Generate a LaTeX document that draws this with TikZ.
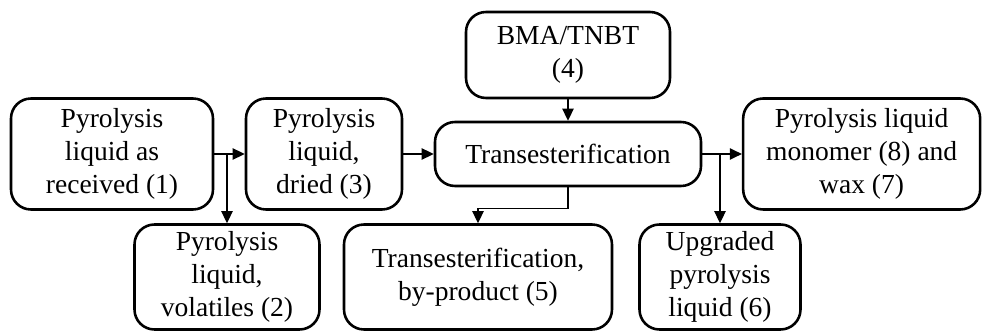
\documentclass[tikz,border=0pt]{standalone}
\usepackage{fontspec}
\setmainfont{Liberation Serif}
\usetikzlibrary{arrows.meta,positioning,calc}

\begin{document}
\begin{tikzpicture}[
  blk/.style={draw,line width=2.2pt,rounded corners=0.6cm,align=center,inner sep=0pt,
    font=\fontsize{23.5}{28}\selectfont},
  arr/.style={-{Triangle[length=0.36cm,width=0.34cm]},line width=1.1pt}]
  \useasboundingbox (0,0) rectangle (29.46,9.93);
  % top row
  \node[blk,minimum width=6.06cm,minimum height=3.33cm] (raw) at (3.36,5.31) {Pyrolysis\\liquid as\\received (1)};
  \node[blk,minimum width=4.68cm,minimum height=3.33cm] (dry) at (9.72,5.31) {Pyrolysis\\liquid,\\dried (3)};
  \node[blk,minimum width=7.98cm,minimum height=1.92cm] (trans) at (17.04,5.31) {Transesterification};
  \node[blk,minimum width=6.12cm,minimum height=2.58cm] (bma) at (17.04,8.28) {BMA/TNBT\\(4)};
  \node[blk,minimum width=7.11cm,minimum height=3.33cm] (mono) at (25.85,5.31) {Pyrolysis liquid\\monomer (8) and\\wax (7)};
  % bottom row
  \node[blk,minimum width=5.55cm,minimum height=3.15cm] (vol) at (6.81,1.62) {Pyrolysis\\liquid,\\volatiles (2)};
  \node[blk,minimum width=8.04cm,minimum height=3.15cm] (byp) at (14.34,1.62) {Transesterification,\\by-product (5)};
  \node[blk,minimum width=4.83cm,minimum height=3.15cm] (upg) at (21.6,1.62) {Upgraded\\pyrolysis\\liquid (6)};
  % branch points
  \coordinate (b1) at (vol.north |- raw.east);
  \coordinate (b2) at (upg.north |- trans.east);
  \draw[arr] (raw) -- (dry);
  \draw[arr] (b1) -- (vol.north);
  \draw[arr] (dry) -- (trans);
  \draw[arr] (bma) -- (trans);
  \draw[arr] (trans.south) -- ++(0,-0.63) -| (byp.north);
  \draw[arr] (trans) -- (mono);
  \draw[arr] (b2) -- (upg.north);
\end{tikzpicture}
\end{document}
